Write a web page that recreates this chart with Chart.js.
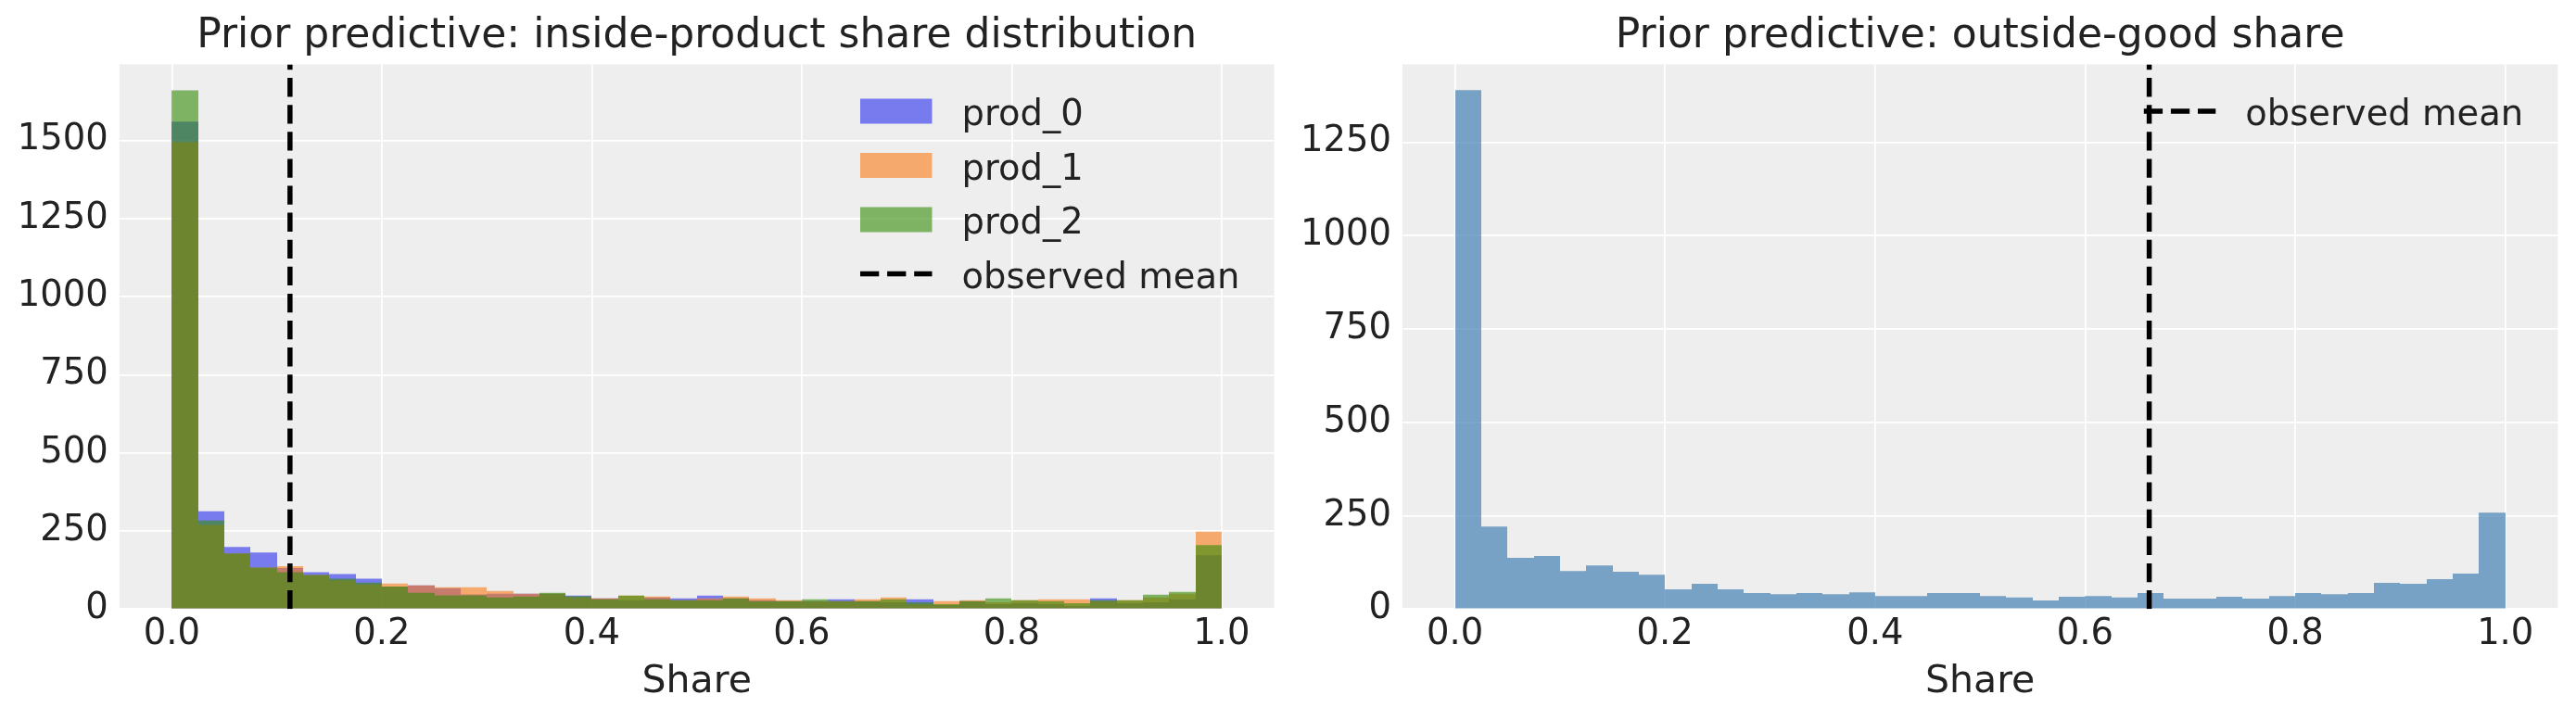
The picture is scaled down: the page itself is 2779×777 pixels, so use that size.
<!DOCTYPE html>
<html>
<head>
<meta charset="utf-8">
<script src="https://cdn.jsdelivr.net/npm/chart.js@4.4.0/dist/chart.umd.min.js"></script>
<style>
html, body { margin: 0; padding: 0; background: #ffffff; }
#wrap { position: relative; width: 2779px; height: 777px; overflow: hidden; }
canvas { position: absolute; top: 0; }
#c1 { left: 0; width: 1390px; height: 777px; }
#c2 { left: 1390px; width: 1389px; height: 777px; }
</style>
</head>
<body>
<div id="wrap">
  <canvas id="c1" width="1390" height="777"></canvas>
  <canvas id="c2" width="1389" height="777"></canvas>
</div>
<script>
// ---------------- DATA ----------------
const binCenters = [0.0125, 0.0375, 0.0625, 0.0875, 0.1125, 0.1375, 0.1625, 0.1875, 0.2125, 0.2375,
                    0.2625, 0.2875, 0.3125, 0.3375, 0.3625, 0.3875, 0.4125, 0.4375, 0.4625, 0.4875,
                    0.5125, 0.5375, 0.5625, 0.5875, 0.6125, 0.6375, 0.6625, 0.6875, 0.7125, 0.7375,
                    0.7625, 0.7875, 0.8125, 0.8375, 0.8625, 0.8875, 0.9125, 0.9375, 0.9625, 0.9875];

const prod0Counts = [1560, 313, 199, 181, 131, 118, 112, 97, 72, 76,
                     67, 47, 49, 49, 49, 43, 34, 28, 37, 34,
                     43, 34, 28, 25, 25, 31, 25, 22, 31, 13,
                     25, 16, 19, 16, 10, 34, 19, 22, 31, 172];
const prod1Counts = [1495, 269, 178, 133, 137, 109, 92, 79, 82, 76,
                     70, 70, 58, 49, 49, 38, 34, 43, 40, 28,
                     34, 40, 34, 28, 25, 25, 31, 37, 15, 25,
                     28, 22, 28, 31, 31, 25, 28, 37, 49, 248];
const prod2Counts = [1660, 283, 178, 133, 118, 109, 97, 85, 72, 52,
                     44, 44, 37, 40, 52, 41, 31, 43, 31, 28,
                     28, 34, 25, 25, 31, 25, 25, 31, 22, 16,
                     25, 34, 28, 25, 19, 28, 28, 46, 55, 205];
const outsideCounts = [1389, 221, 137, 142, 102, 117, 100, 92, 53, 68,
                       53, 43, 40, 43, 40, 45, 35, 35, 43, 43,
                       35, 31, 23, 33, 35, 31, 43, 28, 28, 33,
                       28, 35, 43, 40, 43, 70, 68, 80, 95, 258];

const observedMeanInside = 0.1125;
const observedMeanOutside = 0.661;

const seriesLabels = ['prod_0', 'prod_1', 'prod_2'];
const meanLabel = 'observed mean';
const titles = ['Prior predictive: inside-product share distribution', 'Prior predictive: outside-good share'];
const xAxisLabel = 'Share';

const xTicks = [0.0, 0.2, 0.4, 0.6, 0.8, 1.0];
const xTickLabels = ['0.0', '0.2', '0.4', '0.6', '0.8', '1.0'];
const yTicksLeft = [0, 250, 500, 750, 1000, 1250, 1500];
const yTickLabelsLeft = ['0', '250', '500', '750', '1000', '1250', '1500'];
const yTicksRight = [0, 250, 500, 750, 1000, 1250];
const yTickLabelsRight = ['0', '250', '500', '750', '1000', '1250'];

const xRange = [-0.05, 1.05];
const yMaxLeft = 1743;
const yMaxRight = 1458;

// ---------------- STYLE ----------------
const TEXT = '#222222';
const FONT = "'DejaVu Sans', 'Liberation Sans', sans-serif";
Chart.defaults.font.family = FONT;
Chart.defaults.color = TEXT;

const axesBg = {
  id: 'axesBg',
  beforeDraw(chart, args, opts) {
    const { ctx, chartArea: a } = chart;
    ctx.save();
    ctx.fillStyle = opts.color || '#eeeeee';
    ctx.fillRect(a.left, a.top, a.right - a.left, a.bottom - a.top);
    ctx.restore();
  }
};

// snap bar edges to whole pixels so adjacent translucent bars show no seams
const snapBars = {
  id: 'snapBars',
  afterDatasetsUpdate(chart) {
    chart.data.datasets.forEach((d, di) => {
      const meta = chart.getDatasetMeta(di);
      if (meta.type !== 'bar') return;
      meta.data.forEach(el => {
        const l = Math.round(el.x - el.width / 2);
        const r = Math.round(el.x + el.width / 2);
        el.x = (l + r) / 2;
        el.width = r - l;
        el.inflateAmount = 0;
      });
    });
  }
};

const insideLegend = {
  id: 'insideLegend',
  afterDatasetsDraw(chart, args, o) {
    const ctx = chart.ctx, a = chart.chartArea;
    ctx.save();
    ctx.font = o.fontSize + 'px ' + FONT;
    const items = chart.data.datasets.filter(d => d.label);
    const maxW = Math.max.apply(null, items.map(d => ctx.measureText(d.label).width));
    const x0 = a.right - o.right - maxW - o.textGap - o.handleW;
    items.forEach((d, i) => {
      const cy = a.top + o.top + i * o.rowGap;
      if (d.type === 'line') {
        ctx.strokeStyle = d.borderColor;
        ctx.lineWidth = d.borderWidth;
        ctx.lineCap = 'butt';
        ctx.setLineDash(d.borderDash);
        ctx.beginPath();
        ctx.moveTo(x0, cy);
        ctx.lineTo(x0 + o.handleW, cy);
        ctx.stroke();
        ctx.setLineDash([]);
      } else {
        ctx.fillStyle = d.backgroundColor;
        ctx.fillRect(x0, cy - o.handleH / 2, o.handleW, o.handleH);
      }
      ctx.fillStyle = TEXT;
      ctx.textAlign = 'left';
      ctx.textBaseline = 'alphabetic';
      ctx.fillText(d.label, x0 + o.handleW + o.textGap, cy + o.baselineShift);
    });
    ctx.restore();
  }
};

const legendOpts = { right: 37.2, top: 50.5, rowGap: 58.5, handleW: 77.5, handleH: 27, textGap: 32, fontSize: 38.5, baselineShift: 15 };

function meanLine(xv, yTop) {
  return {
    type: 'line', label: meanLabel,
    data: [{ x: xv, y: 0 }, { x: xv, y: yTop }],
    borderColor: '#000000', borderWidth: 5.5, borderDash: [20.3, 8.8],
    pointRadius: 0, pointHoverRadius: 0, fill: false, tension: 0, order: 0
  };
}

function barSet(label, counts, color, order) {
  return {
    type: 'bar', label: label,
    data: binCenters.map((x, i) => ({ x: x, y: counts[i] })),
    backgroundColor: color, borderWidth: 0, order: order, inflateAmount: 0,
    barPercentage: 1.0, categoryPercentage: 1.0, grouped: false
  };
}

function makeOptions(title, yMax, yTicks, yTickLabels, yAxisWidth, rightPad) {
  return {
    responsive: false,
    devicePixelRatio: 1,
    animation: false,
    events: [],
    layout: { padding: { top: 0, left: 0, bottom: 0, right: rightPad } },
    plugins: {
      legend: { display: false },
      tooltip: { enabled: false },
      title: {
        display: true, text: title, color: TEXT, fullSize: false,
        font: { size: 44, weight: 'normal', family: FONT, lineHeight: 1.2 },
        padding: { top: 13.2, bottom: 3.5 }
      },
      axesBg: { color: '#eeeeee' },
      insideLegend: legendOpts
    },
    scales: {
      x: {
        type: 'linear', min: xRange[0], max: xRange[1], offset: false,
        grid: { color: '#ffffff', lineWidth: 1.7, drawTicks: false, offset: false },
        border: { display: false },
        afterBuildTicks: s => { s.ticks = xTicks.map(v => ({ value: v })); },
        afterFit: s => { s.height = 119.7; },
        ticks: {
          autoSkip: false, maxRotation: 0, minRotation: 0, padding: 5, color: TEXT,
          font: { size: 38.5, family: FONT },
          callback: (v, i) => xTickLabels[i]
        },
        title: {
          display: true, text: xAxisLabel, color: TEXT,
          font: { size: 41, family: FONT, lineHeight: 1.2 },
          padding: { top: 0, bottom: 16.2 }
        }
      },
      y: {
        type: 'linear', min: 0, max: yMax,
        grid: { color: '#ffffff', lineWidth: 1.7, drawTicks: false },
        border: { display: false },
        afterBuildTicks: s => { s.ticks = yTicks.map(v => ({ value: v })); },
        afterFit: s => { s.width = yAxisWidth; },
        ticks: {
          autoSkip: false, padding: 12, color: TEXT,
          font: { size: 38.5, family: FONT },
          callback: (v, i) => yTickLabels[i]
        }
      }
    }
  };
}

new Chart(document.getElementById('c1'), {
  type: 'bar',
  data: {
    datasets: [
      barSet(seriesLabels[0], prod0Counts, 'rgba(42,46,236,0.6)', 3),
      barSet(seriesLabels[1], prod1Counts, 'rgba(250,124,23,0.6)', 2),
      barSet(seriesLabels[2], prod2Counts, 'rgba(50,140,6,0.6)', 1),
      meanLine(observedMeanInside, yMaxLeft)
    ]
  },
  options: makeOptions(titles[0], yMaxLeft, yTicksLeft, yTickLabelsLeft, 128.8, 15.4),
  plugins: [axesBg, snapBars, insideLegend]
});

new Chart(document.getElementById('c2'), {
  type: 'bar',
  data: {
    datasets: [
      barSet(null, outsideCounts, 'rgba(70,130,180,0.7)', 1),
      meanLine(observedMeanOutside, yMaxRight)
    ]
  },
  options: makeOptions(titles[1], yMaxRight, yTicksRight, yTickLabelsRight, 122.9, 19.6),
  plugins: [axesBg, snapBars, insideLegend]
});
</script>
</body>
</html>
